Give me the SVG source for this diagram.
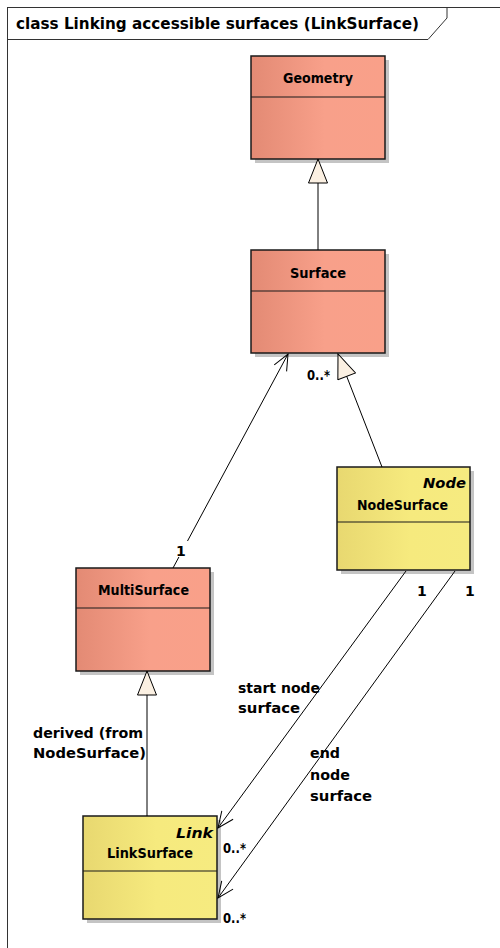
<svg xmlns="http://www.w3.org/2000/svg" width="500" height="948" viewBox="0 0 500 948">
<defs>
<linearGradient id="salmon" x1="0" y1="0" x2="1" y2="0">
<stop offset="0" stop-color="#E38A74"/>
<stop offset="0.55" stop-color="#F8A08A"/>
<stop offset="1" stop-color="#F9A089"/>
</linearGradient>
<linearGradient id="yellow" x1="0" y1="0" x2="1" y2="0">
<stop offset="0" stop-color="#E8D870"/>
<stop offset="0.55" stop-color="#F6EA7E"/>
<stop offset="1" stop-color="#F6EB80"/>
</linearGradient>
<marker id="gen" markerUnits="userSpaceOnUse" viewBox="0 0 26 20" refX="25" refY="10" markerWidth="26" markerHeight="20" orient="auto">
<path d="M1,0.5 L25,10 L1,19.5 Z" fill="#FBF0E2" stroke="#000" stroke-width="1"/>
</marker>
<marker id="open" markerUnits="userSpaceOnUse" viewBox="0 0 18 16" refX="17" refY="8" markerWidth="18" markerHeight="16" orient="auto">
<path d="M1,1 L17,8 L1,15" fill="none" stroke="#000" stroke-width="1"/>
</marker>
</defs>
<style>
text { font-family: "DejaVu Sans", "Liberation Sans", sans-serif; font-weight: bold; fill: #000; }
.title { font-size: 15px; }
.name { font-size: 14.5px; text-anchor: middle; }
.stereo { font-size: 14.5px; font-style: italic; text-anchor: end; }
.lbl { font-size: 14px; }
.box { stroke: #1a1a1a; stroke-width: 1.5; }
.shadow { fill: #c4c4c4; }
.div { stroke: #1a1a1a; stroke-width: 1.2; }
.conn line { stroke: #000; stroke-width: 1; fill: none; }
</style>
<rect x="0" y="0" width="500" height="948" fill="#fff"/>
<g id="frame">
<rect x="7.5" y="7.5" width="600" height="1000" fill="none" stroke="#333" stroke-width="1"/>
<path d="M7.5,39.5 L428,39.5 L447,18 L447,7.5" fill="none" stroke="#333" stroke-width="1"/>
<text class="title" x="16" y="29" textLength="403" lengthAdjust="spacingAndGlyphs">class Linking accessible surfaces (LinkSurface)</text>
</g>
<g id="Geometry">
<rect class="shadow" x="255" y="60" width="134" height="103"/>
<rect class="box" x="251" y="56" width="134" height="103" fill="url(#salmon)"/>
<line class="div" x1="251" y1="97" x2="385" y2="97"/>
<text class="name" x="318" y="83" textLength="70" lengthAdjust="spacingAndGlyphs">Geometry</text>
</g>
<g id="Surface">
<rect class="shadow" x="255" y="254" width="134" height="103"/>
<rect class="box" x="251" y="250" width="134" height="103" fill="url(#salmon)"/>
<line class="div" x1="251" y1="291" x2="385" y2="291"/>
<text class="name" x="318" y="278" textLength="56" lengthAdjust="spacingAndGlyphs">Surface</text>
</g>
<g id="NodeSurface">
<rect class="shadow" x="341" y="471" width="133" height="103"/>
<rect class="box" x="337" y="467" width="133" height="103" fill="url(#yellow)"/>
<line class="div" x1="337" y1="522" x2="470" y2="522"/>
<text class="stereo" x="466" y="488" textLength="43" lengthAdjust="spacingAndGlyphs">Node</text>
<text class="name" x="402.5" y="510" textLength="91" lengthAdjust="spacingAndGlyphs">NodeSurface</text>
</g>
<g id="MultiSurface">
<rect class="shadow" x="80" y="572" width="134" height="103"/>
<rect class="box" x="76" y="568" width="134" height="103" fill="url(#salmon)"/>
<line class="div" x1="76" y1="608" x2="210" y2="608"/>
<text class="name" x="143.5" y="595" textLength="91" lengthAdjust="spacingAndGlyphs">MultiSurface</text>
</g>
<g id="LinkSurface">
<rect class="shadow" x="87" y="820" width="134" height="103"/>
<rect class="box" x="83" y="816" width="134" height="103" fill="url(#yellow)"/>
<line class="div" x1="83" y1="871" x2="217" y2="871"/>
<text class="stereo" x="213" y="838" textLength="37" lengthAdjust="spacingAndGlyphs">Link</text>
<text class="name" x="150" y="858" textLength="86" lengthAdjust="spacingAndGlyphs">LinkSurface</text>
</g>
<g id="connectors" class="conn">
<line x1="318" y1="250" x2="318" y2="159" marker-end="url(#gen)"/>
<line x1="382" y1="467" x2="338" y2="354" marker-end="url(#gen)"/>
<line x1="147" y1="816" x2="147" y2="671" marker-end="url(#gen)"/>
<line x1="173" y1="568" x2="288" y2="354" marker-end="url(#open)"/>
<line x1="406" y1="571" x2="218" y2="828" marker-end="url(#open)"/>
<line x1="455" y1="571" x2="218" y2="898" marker-end="url(#open)"/>
</g>
<g id="labels">
<rect x="174" y="541" width="14" height="16" fill="#fff"/>
<text class="lbl" x="176" y="556">1</text>
<text class="lbl" x="307" y="380" textLength="23" lengthAdjust="spacingAndGlyphs">0..*</text>
<text class="lbl" x="417" y="596">1</text>
<text class="lbl" x="465" y="596">1</text>
<text class="lbl" x="238" y="693" textLength="82" lengthAdjust="spacingAndGlyphs">start node</text>
<text class="lbl" x="238" y="713" textLength="62" lengthAdjust="spacingAndGlyphs">surface</text>
<text class="lbl" x="310" y="758" textLength="30" lengthAdjust="spacingAndGlyphs">end</text>
<text class="lbl" x="310" y="780" textLength="40" lengthAdjust="spacingAndGlyphs">node</text>
<text class="lbl" x="310" y="801" textLength="62" lengthAdjust="spacingAndGlyphs">surface</text>
<text class="lbl" x="33" y="738" textLength="110" lengthAdjust="spacingAndGlyphs">derived (from</text>
<text class="lbl" x="33" y="758" textLength="113" lengthAdjust="spacingAndGlyphs">NodeSurface)</text>
<text class="lbl" x="223" y="853" textLength="23" lengthAdjust="spacingAndGlyphs">0..*</text>
<text class="lbl" x="223" y="923" textLength="23" lengthAdjust="spacingAndGlyphs">0..*</text>
</g>
</svg>
